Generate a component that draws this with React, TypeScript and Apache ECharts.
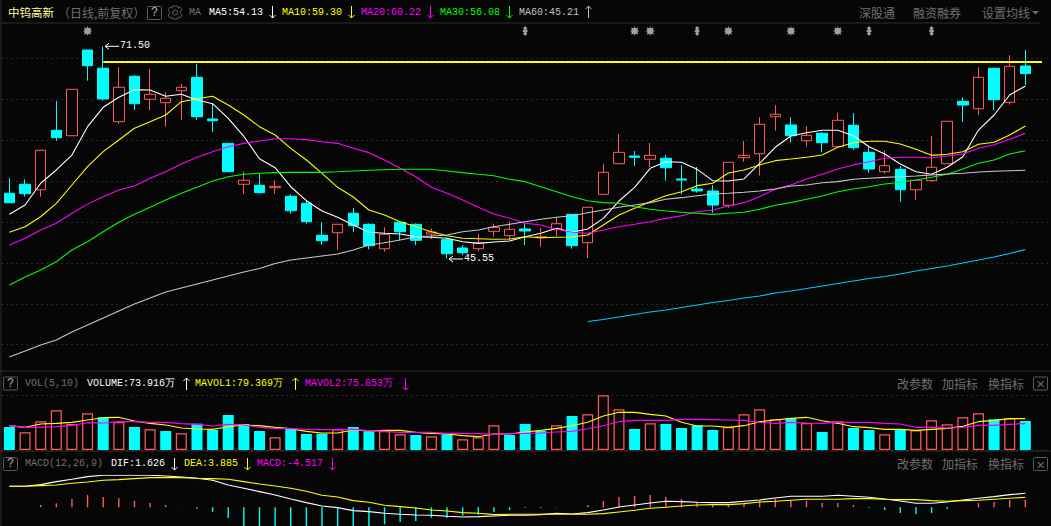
import React, { useEffect, useRef } from "react";
import * as echarts from "echarts";

const BG = "#060606";
const RED = "#ff5a5a";
const CYAN = "#00ffff";
const GRAY = "#707070";
const MONO = "'Liberation Mono', monospace";
const CJK = "'Noto Sans CJK SC', sans-serif";

// [open, close, low, high]
const candles: number[][] = [
  [53.53, 52.37, 52.37, 55.36], [54.63, 53.48, 53.11, 55.24], [53.96, 58.79, 53.11, 58.79], [61.24, 60.33, 59.96, 64.82],
  [60.57, 66.25, 60.57, 66.25], [71.07, 69.14, 67.31, 71.07], [68.83, 65.07, 64.86, 71.5], [62.29, 66.5, 62.04, 68.95],
  [67.85, 64.49, 63.72, 68.0], [65.03, 65.64, 63.72, 68.74], [64.61, 65.15, 61.68, 65.92], [66.09, 66.5, 62.5, 66.9],
  [67.72, 62.9, 62.5, 69.35], [62.62, 62.41, 61.03, 64.46], [59.64, 56.17, 56.17, 59.64], [54.63, 55.12, 53.48, 56.22],
  [54.5, 53.6, 53.48, 55.89], [54.21, 54.38, 53.48, 55.12], [53.16, 51.39, 51.03, 53.4], [52.3, 50.05, 49.8, 52.67],
  [48.39, 47.72, 47.23, 49.98], [48.7, 49.73, 46.62, 49.73], [51.08, 49.56, 48.82, 51.73], [49.73, 47.11, 46.67, 49.85],
  [46.74, 48.51, 46.38, 49.36], [49.98, 48.82, 47.81, 49.98], [49.73, 47.77, 47.2, 49.85], [48.54, 48.79, 47.93, 49.24],
  [47.85, 46.13, 45.55, 48.09], [46.83, 46.25, 45.97, 47.16], [46.74, 47.48, 46.43, 48.54], [48.87, 49.36, 48.21, 49.8],
  [48.34, 49.12, 47.81, 50.05], [49.16, 48.91, 47.2, 49.85], [48.09, 48.21, 46.99, 49.28], [49.12, 49.8, 48.3, 50.59],
  [50.95, 47.11, 46.74, 50.95], [47.48, 51.81, 45.6, 51.81], [53.4, 56.09, 53.4, 57.11], [57.15, 58.54, 57.15, 60.78],
  [58.09, 57.93, 56.87, 58.7], [57.69, 58.17, 56.74, 59.68], [57.81, 56.66, 55.07, 58.21], [55.28, 55.15, 53.4, 56.99],
  [54.05, 53.81, 53.6, 56.74], [53.81, 52.09, 51.15, 54.54], [52.06, 57.32, 51.76, 57.32], [57.88, 58.17, 57.39, 59.93],
  [58.37, 61.97, 55.68, 62.83], [62.9, 63.2, 61.19, 64.3], [61.89, 60.57, 59.72, 62.83], [59.96, 60.62, 59.23, 61.76],
  [60.87, 59.72, 58.54, 61.03], [59.23, 62.46, 59.07, 63.35], [61.85, 59.11, 58.86, 63.35], [58.54, 56.5, 56.01, 59.19],
  [56.17, 56.9, 55.92, 58.79], [56.46, 53.96, 52.5, 56.87], [53.96, 55.12, 52.7, 55.12], [55.07, 56.71, 54.95, 60.54],
  [57.15, 62.34, 57.15, 62.34], [64.79, 64.33, 62.29, 65.27], [63.88, 67.72, 63.11, 68.95], [68.83, 64.98, 63.72, 68.83],
  [64.66, 69.07, 64.37, 70.42], [69.11, 68.17, 66.78, 71.07],
];

const ma5 = [50.95, 52.09, 54.75, 56.38, 58.21, 61.68, 64.05, 65.28, 66.21, 66.17, 65.4, 65.64, 64.95, 64.49, 62.7, 60.48, 57.75, 56.66, 54.33, 52.62, 51.36, 50.59, 49.65, 48.75, 48.63, 48.54, 48.21, 48.14, 48.02, 47.6, 47.4, 47.56, 47.69, 48.21, 48.63, 49.24, 48.75, 49.16, 50.46, 52.58, 54.26, 56.58, 57.39, 57.32, 56.46, 55.07, 55.03, 55.28, 57.2, 59.16, 60.54, 60.94, 61.24, 61.24, 60.57, 59.23, 58.34, 57.11, 56.17, 55.85, 56.71, 58.0, 61.27, 63.11, 65.56, 66.66];
const ma10 = [48.75, 49.44, 50.66, 52.3, 54.54, 56.78, 58.62, 60.05, 61.48, 62.29, 63.11, 64.74, 65.1, 65.4, 64.33, 63.11, 61.68, 60.66, 59.03, 57.6, 55.97, 54.26, 53.07, 51.48, 50.87, 50.05, 49.44, 48.83, 48.33, 48.02, 47.97, 47.9, 47.93, 48.21, 48.09, 48.14, 48.18, 48.42, 49.65, 50.87, 51.69, 52.5, 53.23, 53.72, 54.46, 54.75, 56.01, 56.38, 57.0, 57.52, 57.72, 57.93, 58.21, 59.16, 59.72, 59.89, 59.89, 59.56, 58.91, 58.17, 58.3, 58.62, 59.52, 59.77, 60.66, 61.76];
const ma20 = [47.2, 48.02, 49.03, 49.85, 51.08, 52.2, 53.11, 53.93, 54.42, 55.36, 56.17, 57.11, 57.93, 58.62, 59.23, 59.64, 59.93, 60.21, 60.21, 60.09, 59.84, 59.64, 59.03, 58.5, 57.6, 56.58, 55.56, 54.26, 53.53, 52.7, 51.81, 50.99, 50.46, 49.85, 49.65, 49.12, 48.75, 48.63, 49.03, 49.44, 49.73, 50.05, 50.46, 50.78, 51.27, 51.48, 51.97, 52.38, 53.11, 54.05, 54.54, 55.28, 55.85, 56.5, 57.0, 57.39, 57.81, 57.93, 57.93, 57.88, 58.09, 58.33, 59.03, 59.47, 60.13, 60.87];
const ma30 = [42.3, 43.28, 44.14, 45.15, 46.59, 47.6, 48.82, 49.97, 50.95, 51.81, 52.7, 53.53, 54.26, 55.03, 55.56, 55.85, 55.97, 56.05, 56.09, 56.09, 56.09, 56.17, 56.26, 56.34, 56.41, 56.46, 56.46, 56.46, 56.26, 56.05, 55.85, 55.68, 55.24, 54.95, 54.33, 53.72, 53.11, 52.62, 52.38, 52.3, 51.88, 51.57, 51.36, 51.2, 51.08, 50.95, 51.08, 51.2, 51.57, 52.06, 52.38, 52.79, 53.2, 53.72, 54.05, 54.33, 54.66, 54.87, 55.15, 55.48, 55.85, 56.5, 57.2, 57.6, 58.34, 58.74];
const ma60 = [33.49, 34.22, 34.96, 35.57, 36.55, 37.41, 38.26, 39.12, 39.98, 40.71, 41.44, 41.93, 42.42, 42.91, 43.4, 43.89, 44.32, 44.93, 45.36, 45.61, 45.85, 46.09, 46.59, 47.2, 47.48, 47.81, 48.21, 48.3, 48.42, 48.82, 49.03, 49.44, 49.73, 50.05, 50.34, 50.59, 50.78, 51.15, 51.48, 51.81, 52.09, 52.38, 52.79, 52.99, 53.23, 53.44, 53.53, 53.65, 53.81, 54.05, 54.42, 54.54, 54.82, 54.95, 55.24, 55.36, 55.48, 55.56, 55.64, 55.77, 55.89, 55.97, 56.13, 56.22, 56.29, 56.34];
const ma120Start = 37;
const ma120 = [37.83, 38.08, 38.39, 38.69, 39.0, 39.24, 39.55, 39.85, 40.16, 40.4, 40.71, 40.95, 41.32, 41.57, 41.87, 42.18, 42.49, 42.79, 43.1, 43.34, 43.65, 44.02, 44.32, 44.63, 44.99, 45.36, 45.73, 46.16, 46.65];
const resistance = 69.63;
const starDays = [5, 40, 41, 46, 50, 53];
const diamondDays = [33, 44, 55, 59];
const markerLevel = 73.39;

const volumes = [58.65, 45.05, 73.1, 101.15, 66.3, 93.5, 83.3, 71.4, 58.65, 52.7, 48.45, 42.5, 67.15, 51, 89.25, 66.3, 48.45, 32.3, 53.55, 40.8, 41.65, 52.7, 58.65, 47.6, 48.45, 39.95, 38.25, 34.85, 39.95, 27.2, 32.3, 62.9, 38.25, 66.3, 48.45, 62.9, 86.7, 90.95, 139.4, 103.7, 53.55, 68, 66.3, 56.1, 62.9, 51, 58.65, 90.95, 103.7, 78.2, 80.75, 68.85, 45.9, 73.1, 56.1, 51, 39.95, 52.7, 50.15, 75.65, 65.45, 83.3, 93.5, 78.2, 80.75, 73.95];
const volumeUp = [0, 1, 1, 1, 1, 1, 0, 1, 0, 1, 0, 1, 0, 0, 0, 0, 0, 1, 0, 0, 0, 1, 0, 0, 1, 1, 0, 1, 0, 1, 1, 1, 0, 0, 0, 1, 0, 1, 1, 1, 0, 1, 0, 0, 0, 0, 1, 1, 1, 1, 0, 1, 0, 1, 0, 0, 1, 0, 1, 1, 1, 1, 1, 0, 1, 0];
const mavol1 = [62.05, 57.8, 66.3, 68, 70.55, 76.5, 82.45, 83.3, 73.95, 68, 63.75, 56.1, 53.55, 52.7, 59.5, 63.75, 62.05, 57.8, 54.4, 47.6, 43.35, 43.35, 51, 48.45, 50.15, 50.15, 45.05, 42.5, 40.8, 36.55, 34, 40.8, 40.8, 45.9, 50.15, 55.25, 62.05, 70.55, 86.7, 96.05, 96.05, 90.95, 86.7, 70.55, 61.2, 61.2, 57.8, 62.05, 72.25, 76.5, 80.75, 83.3, 74.8, 68, 59.5, 56.95, 52.7, 52.7, 50.15, 52.7, 55.25, 60.35, 72.25, 75.65, 79.9, 79.9];
const mavol2 = [62.05, 57.8, 57.8, 59.5, 62.9, 69.7, 68.85, 72.25, 72.25, 70.55, 70.55, 67.15, 65.45, 61.2, 65.45, 63.75, 57.8, 55.25, 54.4, 52.7, 51.85, 51.85, 52.7, 49.3, 47.6, 45.05, 45.05, 45.05, 42.5, 42.5, 41.65, 39.95, 41.65, 42.5, 43.35, 45.9, 47.6, 54.4, 62.05, 72.25, 75.65, 75.65, 75.65, 78.2, 78.2, 77.35, 76.5, 75.65, 70.55, 68, 70.55, 68.85, 68, 70.55, 70.55, 70.55, 68, 66.3, 57.8, 57.8, 56.1, 57.8, 62.9, 62.9, 65.45, 67.15];

const macdBars = [0, 0, 1.17, 2.0, 4.17, 6.17, 5.17, 4.5, 3.17, 2.17, 1.17, 0.17, -0.67, -2.33, -5.33, -10, -10.5, -11, -11, -10.5, -10, -10, -10, -10, -8.5, -7.33, -6.83, -5.17, -5.17, -4.17, -3.67, -2.33, -1.33, -0.33, -0.33, 0.17, 0, 1.17, 3.17, 5.17, 5.67, 6.17, 5.17, 4.17, 2.67, 1.5, 1.5, 2.33, 3.33, 4.17, 3.67, 3.17, 2.17, 2.17, 1.17, -0.33, -1.33, -2.83, -3.33, -2.83, -0.83, 0.17, 2.17, 2.67, 3.67, 3.67];
const dif = [10.5, 10.5, 11.33, 12.83, 14, 15.33, 16, 16, 16, 16, 15.67, 15.17, 14.5, 13.5, 11.17, 9.5, 7.83, 6.17, 4.17, 2.33, 0.67, -0.17, -1.67, -2.17, -3, -3.5, -3.83, -4, -4.5, -4.83, -4.67, -4.33, -4, -4, -3.67, -3, -3.33, -2.67, -1.33, 0.17, 1.17, 2.17, 3, 2.83, 2.5, 2.33, 2.33, 3, 3.67, 4.67, 5.5, 5.5, 5.5, 6, 5.5, 5, 4.17, 3.17, 2, 2, 2.67, 3.67, 4.5, 5.33, 6.33, 7];
const dea = [10.5, 10.5, 10.83, 11.17, 12, 12.67, 13.5, 13.83, 14.33, 14.83, 14.83, 14.83, 14.5, 14.33, 14, 12.83, 11.67, 10.67, 9.5, 8, 6, 5.17, 3.33, 2.5, 1, 0.33, -0.33, -1.33, -1.83, -2.67, -3, -3.67, -3.5, -3.5, -3.5, -3.5, -3.5, -3.5, -3.17, -2.33, -1.5, -0.5, 0, 0.67, 1.17, 1.33, 1.33, 1.83, 2.67, 3, 3.5, 4, 4, 4, 4.33, 4.33, 4, 3.83, 3.83, 3.33, 3, 3.33, 3.5, 4, 4.5, 5];

const categories = [...candles.map((_, i) => `D${i + 1}`), ""];

type Label = [string, number, number, string];
const headerLabels: Label[] = [
  ["MA", 189, 12, GRAY],
  ["MA5:54.13", 209, 12, "#ffffff"],
  ["MA10:59.30", 282, 12, "#ffff00"],
  ["MA20:60.22", 361, 12, "#ff00ff"],
  ["MA30:56.08", 440, 12, "#00ff00"],
  ["MA60:45.21", 519, 12, "#c0c0c0"],
  ["VOL(5,10)", 25, 383.5, GRAY],
  ["VOLUME:73.916万", 87, 383.5, "#ffffff"],
  ["MAVOL1:79.369万", 195, 383.5, "#ffff00"],
  ["MAVOL2:75.853万", 305, 383.5, "#ff00ff"],
  ["MACD(12,26,9)", 25, 463.5, GRAY],
  ["DIF:1.626", 111, 463.5, "#ffffff"],
  ["DEA:3.885", 184, 463.5, "#ffff00"],
  ["MACD:-4.517", 257, 463.5, "#ff00ff"],
  ["71.50", 120, 45.5, "#ffffff"],
  ["45.55", 464, 258.5, "#ffffff"],
];
// direction (1 = up, -1 = down), x, y, colour
const arrows: [number, number, number, string][] = [
  [-1, 272.5, 12, "#ffffff"], [-1, 351.5, 12, "#ffff00"], [-1, 430.5, 12, "#ff00ff"], [-1, 509.5, 12, "#00ff00"], [1, 588.5, 12, "#c0c0c0"],
  [1, 186.5, 384, "#ffffff"], [1, 295.5, 384, "#ffff00"], [-1, 405.5, 384, "#ff00ff"],
  [-1, 174.5, 464, "#ffffff"], [-1, 247.5, 464, "#ffff00"], [-1, 332.5, 464, "#ff00ff"],
];
const cjkLabels: Label[] = [
  ["（日线,前复权）", 58, 12, GRAY],
  ["深股通", 859, 12, GRAY], ["融资融券", 913, 12, GRAY], ["设置均线", 982, 12, GRAY],
  ["改参数", 897, 383.5, GRAY], ["加指标", 942, 383.5, GRAY], ["换指标", 988, 383.5, GRAY],
  ["改参数", 897, 463.5, GRAY], ["加指标", 942, 463.5, GRAY], ["换指标", 988, 463.5, GRAY],
];

const text = (t: string, x: number, y: number, fill: string, font: string, size: number, align = "left") => ({
  type: "text", x, y, silent: true,
  style: { text: t, fill, font: `${size}px ${font}`, textAlign: align, textVerticalAlign: "middle" },
});
const stroke = (color: string, lineWidth = 1) => ({ stroke: color, lineWidth, fill: "none" });
const line = (x1: number, y1: number, x2: number, y2: number, color: string) => ({
  type: "line", silent: true, shape: { x1, y1, x2, y2 }, style: stroke(color),
});
const box = (x: number, y: number, w: number, h: number, glyph: string, font: string, size: number, color: string) => [
  { type: "rect", silent: true, shape: { x, y, width: w, height: h, r: 1 }, style: stroke("#5a5a5a") },
  text(glyph, x + w / 2, y + h / 2, color, font, size, "center"),
];
const leftArrow = (x1: number, x2: number, y: number) => [
  line(x1, y, x2, y, "#ffffff"),
  { type: "polyline", silent: true, shape: { points: [[x1 + 4, y - 3], [x1, y], [x1 + 4, y + 3]] }, style: stroke("#ffffff") },
];
const verticalArrow = (dir: number, x: number, y: number, color: string) => [
  line(x, y - 6, x, y + 6, color),
  {
    type: "polyline", silent: true,
    shape: { points: [[x - 3, y - dir * 3], [x, y - dir * 6], [x + 3, y - dir * 3]] },
    style: stroke(color),
  },
];

const gearOutline = [
  [172.5, 6], [177.5, 6], [178, 8], [180, 7], [182, 10], [180.5, 11.5], [180.5, 13.5], [182, 15], [180, 18], [178, 17],
  [177.5, 19], [172.5, 19], [172, 17], [170, 18], [168, 15], [169.5, 13.5], [169.5, 11.5], [168, 10], [170, 7], [172, 8],
];

const STAR = "path://M5 0L5.8 2.2L8.5 1.5L7.8 4.2L10 5L7.8 5.8L8.5 8.5L5.8 7.8L5 10L4.2 7.8L1.5 8.5L2.2 5.8L0 5L2.2 4.2L1.5 1.5L4.2 2.2Z";
const DIAMOND = "path://M2.5 0L5 2.8L3.6 2.8L3.6 3.6L5 4.4L5 5.6L3.6 6.4L3.6 7.2L5 7.2L2.5 10L0 7.2L1.4 7.2L1.4 6.4L0 5.6L0 4.4L1.4 3.6L1.4 2.8L0 2.8Z";

const lineSeries = (name: string, data: (number | null)[], color: string, xAxisIndex = 0, yAxisIndex = 0, width = 1.1) => ({
  name, type: "line", data, xAxisIndex, yAxisIndex, symbol: "none", silent: true,
  lineStyle: { color, width }, itemStyle: { color }, z: 4, connectNulls: false,
});
const dots = { show: true, lineStyle: { color: "#4a4a4a", width: 1, type: [1, 4] as number[] } };
const xAxisBase = (gridIndex: number) => ({
  type: "category", gridIndex, data: categories, boundaryGap: true,
  axisLine: { show: false }, axisTick: { show: false }, axisLabel: { show: false }, splitLine: { show: false },
});
const yAxisBase = (gridIndex: number, min: number, max: number, interval: number, splitLine: object) => ({
  type: "value", gridIndex, min, max, interval, scale: true,
  axisLine: { show: false }, axisTick: { show: false }, axisLabel: { show: false }, splitLine,
});

export default function App() {
  const ref = useRef<HTMLDivElement>(null);
  useEffect(() => {
    document.body.style.margin = "0";
    document.body.style.background = BG;
    const chart = echarts.init(ref.current!, undefined, { renderer: "svg" });
    const left = 1.6;
    const width = 1047.2;
    chart.setOption({
      animation: false,
      backgroundColor: BG,
      grid: [
        { left, width, top: 17.85, height: 367.65 },
        { left, width, top: 395.3, height: 54.7 },
        { left, width, top: 475.3, height: 50.7 },
      ],
      xAxis: [xAxisBase(0), xAxisBase(1), xAxisBase(2)],
      yAxis: [
        yAxisBase(0, 30, 75, 5, { ...dots, showMinLine: false, showMaxLine: false }),
        yAxisBase(1, 0, 139.5, 139.5, dots),
        yAxisBase(2, -9.35, 16, 25.35, { show: false }),
      ],
      series: [
        {
          name: "K", type: "candlestick", data: candles, barWidth: 11, silent: true, z: 3,
          itemStyle: { color: BG, color0: CYAN, borderColor: RED, borderColor0: CYAN, borderWidth: 1 },
          markLine: {
            silent: true, symbol: "none", label: { show: false }, animation: false,
            lineStyle: { color: "#ffff00", width: 2, type: "solid" },
            data: [[{ xAxis: "D7", yAxis: resistance }, { x: 1042, yAxis: resistance }]],
          },
        },
        lineSeries("MA5", ma5, "#ffffff"),
        lineSeries("MA10", ma10, "#ffff00"),
        lineSeries("MA20", ma20, "#ff00ff"),
        lineSeries("MA30", ma30, "#00ff00"),
        lineSeries("MA60", ma60, "#c8c8c8"),
        lineSeries("MA120", [...Array(ma120Start).fill(null), ...ma120], "#00ccff"),
        {
          name: "star", type: "scatter", symbol: STAR, symbolSize: 10, silent: true,
          itemStyle: { color: "#c8c8c8" },
          data: starDays.map((d) => [categories[d], markerLevel]),
        },
        {
          name: "diamond", type: "scatter", symbol: DIAMOND, symbolSize: [5, 10], silent: true,
          itemStyle: { color: "#c8c8c8" },
          data: diamondDays.map((d) => [categories[d], markerLevel]),
        },
        {
          name: "VOL", type: "bar", xAxisIndex: 1, yAxisIndex: 1, barWidth: 11, silent: true,
          data: volumes.map((v, i) => ({
            value: v,
            itemStyle: volumeUp[i]
              ? { color: "rgba(0,0,0,0)", borderColor: RED, borderWidth: 1.25 }
              : { color: CYAN },
          })),
        },
        lineSeries("MAVOL1", mavol1, "#ffff00", 1, 1),
        lineSeries("MAVOL2", mavol2, "#ff00ff", 1, 1),
        {
          name: "MACD", type: "bar", xAxisIndex: 2, yAxisIndex: 2, barWidth: 1.4, silent: true,
          data: macdBars.map((v) => ({ value: v, itemStyle: { color: v >= 0 ? RED : CYAN } })),
        },
        lineSeries("DIF", dif, "#ffffff", 2, 2),
        lineSeries("DEA", dea, "#ffff00", 2, 2),
      ],
      graphic: {
        elements: [
          line(1, 23, 1040, 23, "#2c2c2c"),
          line(0, 371, 1051, 371, "#2c2c2c"),
          line(0, 451, 1051, 451, "#2c2c2c"),
          line(1, 0, 1, 526, "#2c2c2c"),
          ...box(147.5, 6.5, 14, 13, "?", MONO, 12, "#b0b0b0"),
          { type: "polygon", silent: true, shape: { points: gearOutline }, style: stroke("#5a5a5a") },
          { type: "ring", silent: true, shape: { cx: 175, cy: 12.5, r: 3, r0: 2 }, style: { fill: "#5a5a5a" } },
          ...box(3.5, 377, 14, 13, "?", MONO, 12, "#b0b0b0"),
          ...box(3.5, 457.5, 14, 13, "?", MONO, 12, "#b0b0b0"),
          ...box(1033.5, 377, 14, 13, "×", "'Liberation Sans'", 15, "#6a6a6a"),
          ...box(1033.5, 457.5, 14, 13, "×", "'Liberation Sans'", 15, "#6a6a6a"),
          { type: "polygon", silent: true, shape: { points: [[1032, 11], [1039, 11], [1035.5, 14.5]] }, style: { fill: GRAY } },
          ...leftArrow(105, 119, 46.3),
          ...leftArrow(449, 463, 259),
          ...arrows.flatMap(([dir, x, y, c]) => verticalArrow(dir, x, y, c)),
          ...headerLabels.map(([t, x, y, c]) => text(t, x, y, c, MONO, 10)),
          text("中钨高新", 8, 12, "#ffff99", CJK, 11.5),
          ...cjkLabels.map(([t, x, y, c]) => text(t, x, y, c, CJK, 12)),
        ],
      },
    });
    return () => chart.dispose();
  }, []);
  return <div ref={ref} style={{ width: 1051, height: 526 }} />;
}
